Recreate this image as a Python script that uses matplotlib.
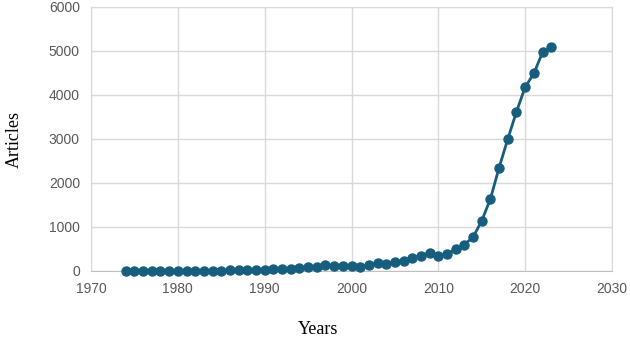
import matplotlib.pyplot as plt
import numpy as np

years = np.arange(1974, 2024)
articles = [2, 3, 3, 4, 4, 5, 5, 6, 7, 7, 8, 9, 12, 18, 22, 25, 28,
            40, 45, 48, 60, 85, 80, 140, 120, 115, 120, 95, 140, 180,
            160, 215, 230, 290, 350, 410, 350, 390, 490, 600, 770,
            1140, 1640, 2350, 3000, 3620, 4180, 4490, 4970, 5080]

x_ticks = [1970, 1980, 1990, 2000, 2010, 2020, 2030]
y_ticks = [0, 1000, 2000, 3000, 4000, 5000, 6000]

color = '#175e7e'
grid_col = '#d9d9d9'

fig = plt.figure(figsize=(6.3, 3.42), dpi=100)
ax = fig.add_axes([91 / 630, 1 - 271 / 342, (612 - 91) / 630, (271 - 7) / 342])

ax.plot(years, articles, color=color, linewidth=2, marker='o',
        markersize=6.5, zorder=3, clip_on=False)

ax.set_xlim(1970, 2030)
ax.set_ylim(0, 6000)
ax.set_xticks(x_ticks)
ax.set_yticks(y_ticks)
ax.grid(True, color=grid_col, linewidth=1)
for s in ax.spines.values():
    s.set_color(grid_col)
ax.spines['bottom'].set_color('#bfbfbf')
ax.tick_params(length=0, labelsize=10, labelcolor='#595959', pad=8)
for lab in ax.get_xticklabels() + ax.get_yticklabels():
    lab.set_family('Liberation Sans')

fig.text(318 / 630, 1 - 330 / 342, 'Years', family='Liberation Serif',
         fontsize=13, ha='center', va='center')
fig.text(14 / 630, 1 - 140 / 342, 'Articles', family='Liberation Serif',
         fontsize=13, ha='center', va='center', rotation=90)

fig.savefig('out.png', dpi=100)
